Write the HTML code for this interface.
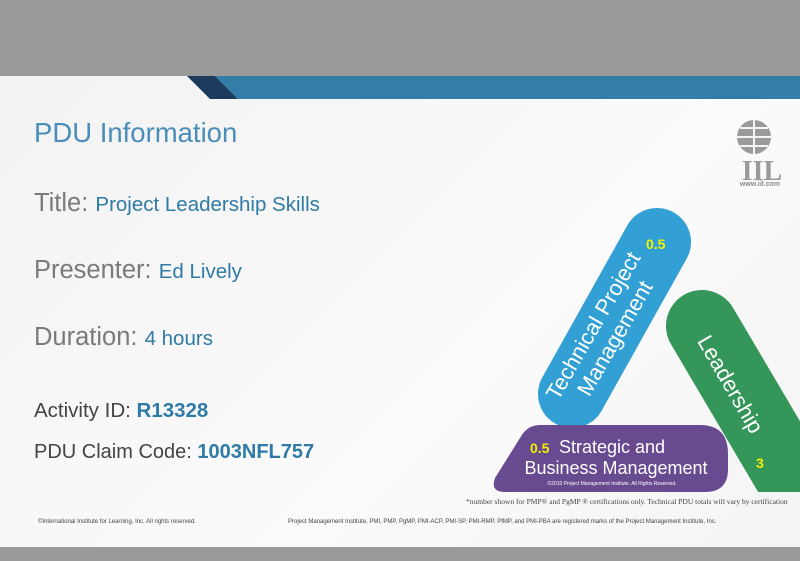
<!DOCTYPE html>
<html><head><meta charset="utf-8"><style>
body{margin:0;width:800px;height:561px;overflow:hidden;background:#9a9a9a;font-family:"Liberation Sans",sans-serif;}
#slide{position:absolute;left:0;top:76px;width:800px;height:471px;background:linear-gradient(135deg,#f2f2f2,#fbfbfb 60%,#f4f4f4);overflow:hidden;}
.t{position:absolute;white-space:nowrap;}
.lbl{color:#7a7a7a;font-size:25.5px;}
.val{color:#2f7aa6;font-size:20.5px;}
</style></head><body>
<div id="slide">
<svg width="800" height="471" style="position:absolute;left:0;top:0">
<defs><clipPath id="gc"><rect x="0" y="0" width="800" height="416"/></clipPath></defs>
<polygon points="187,0 215,0 238,23 210,23" fill="#1b3a5c"/>
<polygon points="215,0 800,0 800,23 238,23" fill="#337ea8"/>
<g>
<circle cx="754" cy="61" r="17" fill="#9a9a9a"/>
<path d="M737,61h34M754,44v34M740,52h28M740,70h28" stroke="#f4f4f4" stroke-width="2" fill="none"/>
<text x="762" y="104" font-family="Liberation Serif" font-weight="bold" font-size="28" fill="#9a9a9a" text-anchor="middle">IIL</text>
<text x="760" y="110" font-size="7" font-weight="bold" fill="#8a8a8a" text-anchor="middle">www.iil.com</text>
</g>
<g>
<line x1="657" y1="166" x2="572" y2="318" stroke="#32a0d4" stroke-width="68" stroke-linecap="round"/>
<line x1="702" y1="250" x2="820" y2="450" stroke="#35965a" stroke-width="72" stroke-linecap="round" clip-path="url(#gc)"/>
<path d="M540,349 L700,349 Q728,349 728,378 L728,393 Q728,416 705,416 L505,416 Q490,416 495,402 L520,362 Q527,349 540,349 Z" fill="#674a8f"/>
<text transform="translate(604,256) rotate(-60)" font-size="22" fill="#fff" text-anchor="middle"><tspan x="0" dy="-5">Technical Project</tspan><tspan x="0" dy="25">Management</tspan></text>
<text transform="translate(724,312) rotate(60)" font-size="22" fill="#fff" text-anchor="middle">Leadership</text>
<text x="612" y="377" font-size="18" fill="#fff" text-anchor="middle">Strategic and</text>
<text x="616" y="398" font-size="18" fill="#fff" text-anchor="middle">Business Management</text>
<text x="612" y="409" font-size="5" fill="#fff" text-anchor="middle">©2010 Project Management Institute. All Rights Reserved.</text>
<text x="646" y="173" font-size="14" font-weight="bold" fill="#f2f200">0.5</text>
<text x="530" y="377" font-size="14" font-weight="bold" fill="#f2f200">0.5</text>
<text x="756" y="392" font-size="14" font-weight="bold" fill="#f2f200">3</text>
</g>
</svg>
<div class="t" style="left:34px;top:41px;font-size:27.5px;color:#4a8db8">PDU Information</div>
<div class="t" style="left:34px;top:113px"><span class="lbl">Title: </span><span class="val">Project Leadership Skills</span></div>
<div class="t" style="left:34px;top:180px"><span class="lbl">Presenter: </span><span class="val">Ed Lively</span></div>
<div class="t" style="left:34px;top:247px"><span class="lbl">Duration: </span><span class="val">4 hours</span></div>
<div class="t" style="left:34px;top:323px;font-size:20.5px;color:#444">Activity ID: <b style="color:#2f7aa6">R13328</b></div>
<div class="t" style="left:34px;top:365px;font-size:20px;color:#444">PDU Claim Code: <b style="color:#2f7aa6">1003NFL757</b></div>
<div class="t" style="left:466px;top:421px;font-size:7.5px;color:#444;font-family:'Liberation Serif'">*number shown for PMP® and PgMP ® certifications only. Technical PDU totals will vary by certification</div>
<div class="t" style="left:38px;top:443px;font-size:6px;color:#444">©International Institute for Learning, Inc. All rights reserved.</div>
<div class="t" style="left:288px;top:443px;font-size:6px;color:#444">Project Management Institute, PMI, PMP, PgMP, PMI-ACP, PMI-SP, PMI-RMP, PfMP, and PMI-PBA are registered marks of the Project Management Institute, Inc.</div>
</div>
</body></html>
